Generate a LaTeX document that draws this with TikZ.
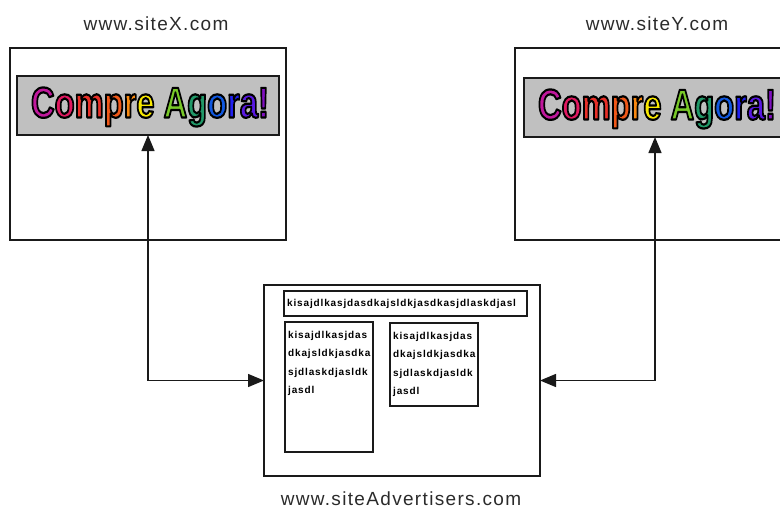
\documentclass[tikz,border=0pt]{standalone}
\usepackage{fontspec}
\setmainfont{Liberation Sans}
\newfontfamily\lblfont[LetterSpace=7]{Liberation Sans}
\newfontfamily\smlfont[LetterSpace=8.5]{Liberation Sans}
\newfontfamily\banfont{Liberation Sans}
\usetikzlibrary{arrows.meta}
\definecolor{lncol}{HTML}{1A1A1A}
\definecolor{lbcol}{HTML}{2B2B2B}
\definecolor{bangray}{HTML}{C0C0C0}
\definecolor{bnA}{HTML}{C0189C}
\definecolor{bnB}{HTML}{E01860}
\definecolor{bnC}{HTML}{E83028}
\definecolor{bnD}{HTML}{F05818}
\definecolor{bnE}{HTML}{F88810}
\definecolor{bnF}{HTML}{F8E800}
\definecolor{bnG}{HTML}{78C828}
\definecolor{bnH}{HTML}{209868}
\definecolor{bnI}{HTML}{1058E0}
\definecolor{bnJ}{HTML}{2020F0}
\definecolor{bnK}{HTML}{5818E0}
\definecolor{bnL}{HTML}{8010C0}
\newcommand\olt[2]{{\color{#1}\special{pdf:literal direct 0 0 0 RG 2 Tr 2.2 w 1 j}#2\special{pdf:literal direct 0 Tr}}}
\newcommand\bantext{\scalebox{0.76}[1]{\banfont\bfseries\fontsize{43}{43}\selectfont
\olt{bnA}{C}\olt{bnB}{o}\olt{bnC}{m}\olt{bnD}{p}\olt{bnE}{r}\olt{bnF}{e}\ \olt{bnG}{A}\olt{bnH}{g}\olt{bnI}{o}\olt{bnJ}{r}\olt{bnK}{a}\olt{bnL}{!}}}
\begin{document}
\begin{tikzpicture}[x=1pt,y=-1pt,
  box/.style={draw=lncol,line width=1.6pt,inner sep=0pt,outer sep=0pt,anchor=north west},
  banner/.style={box,fill=bangray,line width=1.5pt},
  lbl/.style={text=lbcol,font=\lblfont\fontsize{19}{19}\selectfont,anchor=base,inner sep=0pt},
  sml/.style={text=black,font=\smlfont\bfseries\fontsize{10}{18.5}\selectfont,align=left,inner sep=0pt},
  conn/.style={draw=lncol,line width=1.4pt,-{Triangle[length=16pt,width=13pt]}}]
\useasboundingbox (0,0) rectangle (780,509);
\clip (0,0) rectangle (780,509);
% site X
\node[lbl] (lx) at (156,30) {www.siteX.com};
\node[box,minimum width=276pt,minimum height=192pt] (sx) at (10,48) {};
\node[banner,minimum width=262pt,minimum height=59pt] (bx) at (17,76) {};
\node (tx) at (bx.center) [xshift=2pt,yshift=-1.5pt] {\bantext};
% site Y
\node[lbl] (ly) at (657,30) {www.siteY.com};
\node[box,minimum width=276pt,minimum height=192pt] (sy) at (515,48) {};
\node[banner,minimum width=262pt,minimum height=59pt] (by) at (524,78) {};
\node (ty) at (by.center) [xshift=2pt,yshift=-1.5pt] {\bantext};
% advertiser
\node[box,minimum width=276pt,minimum height=191pt] (adv) at (264,285) {};
\node[box,minimum width=243pt,minimum height=25pt,line width=1.5pt] (ib) at (284,291) {};
\node[box,minimum width=88pt,minimum height=130pt,line width=1.5pt] (il) at (285,322) {};
\node[box,minimum width=88pt,minimum height=83pt,line width=1.5pt] (ir) at (390,323) {};
\node[sml,anchor=base west] (tb) at (287,306.5) {kisajdlkasjdasdkajsldkjasdkasjdlaskdjasl};
\node[sml,anchor=north west] (tl) at (288,331) {kisajdlkasjdas\\dkajsldkjasdka\\sjdlaskdjasldk\\jasdl};
\node[sml,anchor=north west] (tr) at (393,332) {kisajdlkasjdas\\dkajsldkjasdka\\sjdlaskdjasldk\\jasdl};
\node[lbl] (la) at (401,505) {www.siteAdvertisers.com};
% connectors
\draw[conn] (adv.west -| bx.south) -- (bx.south);
\draw[conn] (adv.west -| bx.south) -- (adv.west);
\draw[conn] (adv.east -| by.south) -- (by.south);
\draw[conn] (adv.east -| by.south) -- (adv.east);
\end{tikzpicture}
\end{document}
